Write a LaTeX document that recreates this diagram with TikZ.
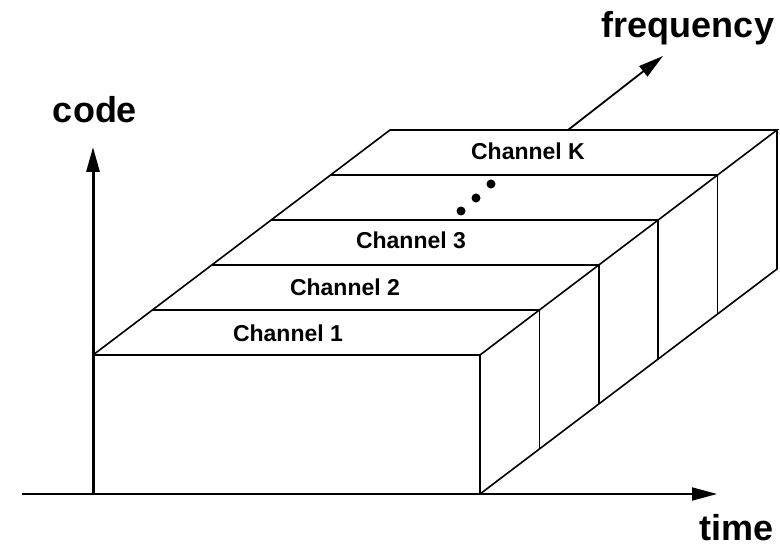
\documentclass[tikz,border=0pt]{standalone}
\usepackage{fontspec}
\setmainfont{Liberation Sans}
\usetikzlibrary{positioning,arrows.meta,calc}
\tikzset{
    edge/.style = {
        draw,
        line width=1.6pt,
        line join=miter
    },
    axis/.style = {
        draw,
        line width=1.8pt,
        -{Triangle[length=25pt,width=13pt]}
    },
    channel/.style = {
        font=\bfseries\fontsize{23}{23}\selectfont
    },
    axislabel/.style = {
        font=\bfseries\fontsize{36}{36}\selectfont
    },
    dot/.style = {
        fill,
        circle,
        inner sep=0pt,
        minimum size=9pt
    },
}

\begin{document}
\begin{tikzpicture}[x=1pt,y=-1pt]
    \useasboundingbox (0,0) rectangle (780,548);

    % corners of the block
    \coordinate (ftl) at (93,355);
    \coordinate (ftr) at (480,355);
    \coordinate (fbr) at (480,494);
    \coordinate (btl) at (390,130);
    \coordinate (btr) at (777,130);
    \coordinate (bbr) at (777,269);

    % axes
    \coordinate (orig) at (93,494);
    \coordinate (tstart) at (22,494);
    \coordinate (tend) at (717,494);
    \coordinate (cend) at (93,147);
    \coordinate (fstart) at ($(btl)!0.46!(btr)$);
    \coordinate (fend) at (663,56);

    \node[axislabel] (code) at (95,110) {code};
    \node[axislabel] (freq) at (688,28) {frequency};
    \node[axislabel] (time) at (737,528) {time};

    \path[axis] (tstart) -- (tend);
    \path[axis, line width=3pt] (orig) -- (cend);
    \path[axis] (fstart) -- (fend);

    % block outline
    \path[edge] (ftl) -- (ftr) -- (fbr);
    \path[edge] (ftl) -- (btl) -- (btr) -- (ftr);
    \path[edge] (btr) -- (bbr) -- (fbr);

    % channel strips
    \foreach \t in {1,...,4}
        \path[edge] ($(ftl)!\t/5!(btl)$) -- ($(ftr)!\t/5!(btr)$) -- ($(fbr)!\t/5!(bbr)$);

    \node[channel] (ch1) at (288,333) {Channel 1};
    \node[channel] (ch2) at (345,287) {Channel 2};
    \node[channel] (ch3) at (411,240) {Channel 3};
    \node[channel] (chk) at (528,151) {Channel K};

    \node[dot] (d1) at (461,211) {};
    \node[dot] (d2) at (476,198) {};
    \node[dot] (d3) at (491,184) {};
\end{tikzpicture}
\end{document}
